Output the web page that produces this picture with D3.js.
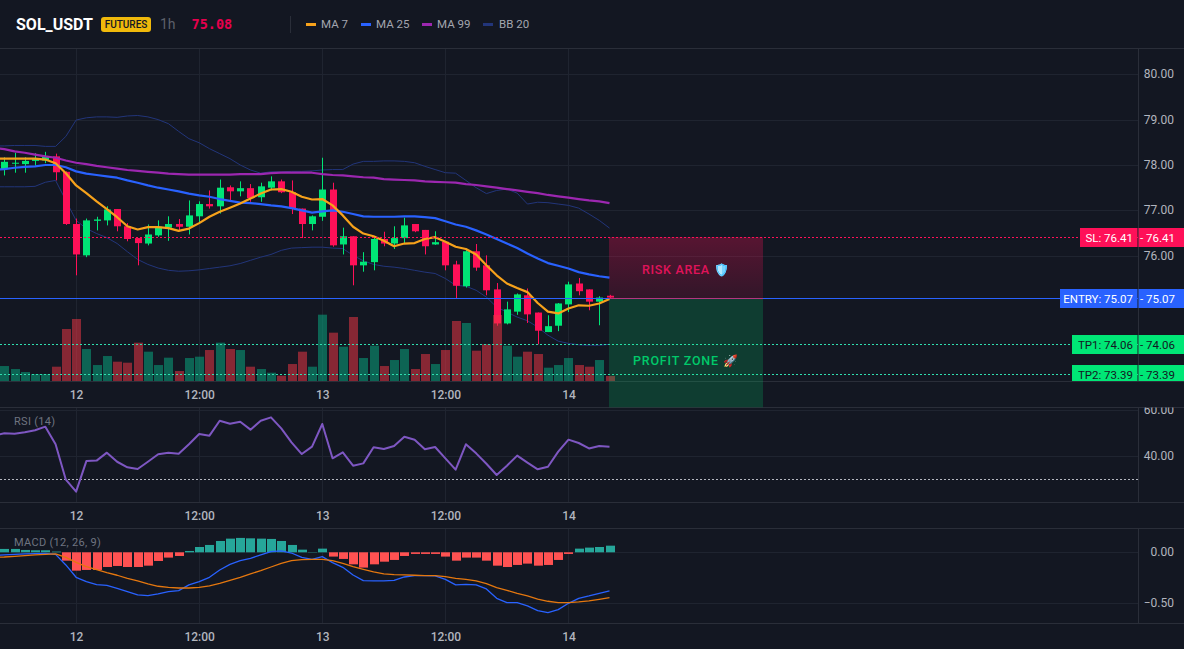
<!DOCTYPE html>
<html>
<head>
<meta charset="utf-8">
<script src="https://cdn.jsdelivr.net/npm/d3@7/dist/d3.min.js"></script>
<style>
html,body{margin:0;padding:0;background:#131722;overflow:hidden}
svg{display:block}
text{font-family:Roboto,"Noto Sans",sans-serif}
</style>
</head>
<body>
<svg id="chart" width="1184" height="649"></svg>
<script>
// Hourly SOL/USDT candles, oldest first
const opens=[77.95,
77.91,78.03,78.02,78.09,78.10,78.19,77.85,76.70,76.01,76.77,
76.78,77.03,76.65,76.39,76.27,76.45,76.62,76.70,76.64,76.87,
77.14,77.09,77.51,77.42,77.49,77.29,77.50,77.64,77.40,77.04,
76.70,76.86,77.46,76.25,76.43,75.79,75.86,76.37,76.27,76.39,
76.70,76.57,76.25,76.31,75.81,75.33,76.10,75.79,75.26,74.51,
74.77,75.13,74.75,74.32,74.46,74.93,75.39,75.26,74.99,75.12];
const highs=[78.10,
78.17,78.27,78.17,78.26,78.29,78.25,77.86,76.82,76.82,76.86,
77.09,77.03,76.72,76.39,76.69,76.78,76.87,76.81,77.22,77.20,
77.44,77.68,77.55,77.64,77.58,77.61,77.75,77.68,77.66,77.04,
76.89,78.16,77.61,76.62,76.43,76.08,76.40,76.53,76.65,76.84,
76.70,76.57,76.54,76.31,75.89,76.16,76.26,76.01,75.40,74.99,
75.17,75.28,74.75,74.69,74.96,75.43,75.51,75.26,75.11,75.14];
const lows=[77.85,
77.77,77.83,77.83,77.99,78.04,77.66,76.68,75.57,75.97,76.56,
76.67,76.54,76.32,75.79,76.23,76.42,76.33,76.56,76.47,76.72,
77.04,76.93,77.22,77.31,77.19,77.19,77.44,77.38,76.92,76.39,
76.56,76.77,76.20,76.03,75.35,75.65,75.68,76.21,76.15,76.28,
76.52,76.03,76.24,75.68,75.05,75.30,75.67,75.13,74.46,74.49,
74.70,74.52,74.05,74.32,74.34,74.76,75.13,74.80,74.47,75.05];
const closes=[78.00,
78.07,78.05,78.09,78.13,78.18,77.84,76.70,76.03,76.78,76.80,
77.02,76.65,76.37,76.28,76.47,76.64,76.70,76.64,76.89,77.14,
77.09,77.50,77.42,77.49,77.27,77.53,77.64,77.40,77.04,76.70,
76.87,77.46,76.23,76.43,75.79,75.87,76.37,76.27,76.39,76.67,
76.54,76.21,76.30,75.79,75.34,76.10,75.74,75.24,74.51,74.82,
75.15,74.71,74.35,74.45,74.95,75.37,75.22,74.99,75.08,75.08];
const volumes=[20,
23.5,19,14.5,11.5,11.5,22.5,79,94,49,25,
38.5,30,28.5,58.5,45,25,36,16,35.5,37.5,
47.5,58.5,49,47.5,22.5,19,13.5,9,26.5,45,
22.5,100.5,73.5,52.5,97,35.5,54,23.5,32.5,49,
19,41.5,26.5,47.5,91,88,46.5,56,100,54,
37.5,45,41.5,21,25,35.5,25,22.5,32.5,8.5];

// Moving averages and Bollinger bands
const ma7=[78.14,
78.14,78.14,78.14,78.14,78.12,78.04,77.82,77.55,77.38,77.20,
77.03,76.85,76.65,76.58,76.63,76.63,76.61,76.55,76.60,76.72,
76.86,76.97,77.06,77.15,77.26,77.37,77.46,77.47,77.41,77.30,
77.24,77.25,77.11,76.89,76.64,76.49,76.43,76.33,76.21,76.27,
76.28,76.37,76.41,76.31,76.20,76.15,76.03,75.79,75.57,75.39,
75.29,75.20,74.96,74.77,74.73,74.84,74.91,74.90,74.95,75.05];
const ma25=[77.89,
77.91,77.94,77.96,77.97,78.00,78.00,77.95,77.86,77.81,77.78,
77.75,77.72,77.66,77.61,77.55,77.50,77.46,77.42,77.37,77.33,
77.30,77.25,77.21,77.17,77.16,77.14,77.11,77.09,77.05,77.00,
76.95,76.98,77.00,76.97,76.92,76.87,76.86,76.86,76.86,76.87,
76.87,76.85,76.83,76.76,76.69,76.64,76.56,76.47,76.37,76.27,
76.17,76.05,75.94,75.84,75.78,75.72,75.64,75.59,75.55,75.52];
const ma99=[78.38,
78.35,78.30,78.27,78.23,78.19,78.16,78.10,78.05,78.02,77.98,
77.95,77.92,77.89,77.87,77.85,77.83,77.81,77.80,77.79,77.79,
77.79,77.79,77.79,77.80,77.80,77.80,77.82,77.83,77.83,77.83,
77.83,77.80,77.78,77.77,77.75,77.73,77.72,77.69,77.68,77.67,
77.66,77.64,77.63,77.62,77.61,77.58,77.56,77.53,77.50,77.47,
77.44,77.41,77.38,77.34,77.31,77.28,77.25,77.22,77.20,77.16];
const bbUpper=[78.42,
78.42,78.43,78.43,78.43,78.41,78.41,78.63,78.99,79.04,79.06,
79.06,79.05,79.08,79.09,79.06,79.00,78.91,78.74,78.58,78.49,
78.36,78.25,78.14,78.00,77.89,77.82,77.85,77.85,77.86,77.86,
77.87,77.89,77.90,77.90,78.02,78.08,78.08,78.09,78.09,78.08,
78.05,77.97,77.90,77.83,77.82,77.66,77.50,77.37,77.44,77.47,
77.38,77.14,77.18,77.17,77.14,77.11,77.05,76.92,76.78,76.61];
const bbLower=[77.52,
77.52,77.52,77.52,77.53,77.62,77.66,77.22,76.78,76.60,76.49,
76.40,76.27,76.09,75.92,75.81,75.73,75.68,75.66,75.67,75.69,
75.72,75.75,75.78,75.83,75.90,75.97,76.03,76.12,76.17,76.18,
76.19,76.19,76.17,76.16,76.01,75.89,75.81,75.77,75.75,75.72,
75.68,75.64,75.61,75.50,75.35,75.33,75.24,75.09,74.87,74.76,
74.65,74.57,74.43,74.25,74.12,74.07,74.04,74.03,74.03,74.05];

// RSI pane
const rsi=[49,
49.85,49.7,50.3,51.2,52.75,45.1,29.7,24.5,37.8,38.0,
41.45,37.5,35.1,34.35,37.5,40.75,41.45,41.0,45.1,49.55,
48.85,55.35,54.05,54.9,51.45,55.35,56.8,52.0,45.95,40.85,
44.05,53.9,39.0,41.6,35.8,36.8,43.8,43.05,44.35,48.4,
47.1,42.9,43.9,39.0,34.05,45.1,41.15,36.65,31.75,35.8,
40.15,37.1,34.2,35.35,41.9,47.1,45.65,43.3,44.35,44.05];

// MACD pane
const macdHist=[.03,
.033,.033,.023,.020,.020,.007,-.082,-.180,-.173,-.173,
-.144,-.134,-.144,-.144,-.131,-.085,-.052,-.036,.013,.052,
.072,.111,.134,.141,.137,.134,.131,.111,.072,.026,
.003,.036,-.042,-.065,-.118,-.150,-.118,-.092,-.075,-.036,
-.016,-.016,-.016,-.042,-.082,-.052,-.052,-.082,-.131,-.144,
-.124,-.111,-.131,-.124,-.075,-.016,.036,.046,.052,.065];
const macdLine=[-.03,
-.026,-.020,-.016,-.013,-.010,-.020,-.124,-.245,-.288,-.317,
-.324,-.353,-.386,-.418,-.425,-.408,-.386,-.376,-.320,-.288,
-.245,-.173,-.118,-.082,-.059,-.026,.007,.013,-.007,-.049,
-.069,-.042,-.101,-.147,-.222,-.278,-.281,-.281,-.275,-.242,
-.229,-.229,-.232,-.265,-.320,-.314,-.320,-.359,-.451,-.493,
-.493,-.526,-.572,-.592,-.562,-.500,-.451,-.428,-.402,-.379];
const macdSignal=[-.05,
-.046,-.039,-.033,-.026,-.020,-.016,-.049,-.098,-.141,-.170,
-.199,-.225,-.255,-.281,-.310,-.333,-.343,-.350,-.350,-.343,
-.330,-.304,-.275,-.245,-.212,-.180,-.144,-.108,-.082,-.072,
-.069,-.069,-.082,-.108,-.141,-.167,-.193,-.212,-.219,-.222,
-.225,-.229,-.229,-.239,-.255,-.265,-.281,-.307,-.346,-.373,
-.402,-.428,-.458,-.480,-.493,-.493,-.487,-.477,-.461,-.444];

// Axis ticks and trade levels
const timeTickIndex=[8,20,32,44,56];
const timeTickLabels=["12","12:00","13","12:00","14"];
const priceTicks=[80,79,78,77,76];
const rsiTicks=[60,40];
const rsiGuide=30;
const macdTicks=[0,-0.5];
const lastPrice=75.08;
const stopLoss=76.41, entry=75.07, takeProfit1=74.06, takeProfit2=73.39;
const legendItems=["MA 7","MA 25","MA 99","BB 20"];

const C={bg:"#131722",grid:"#1f2430",sep:"#2a2e39",axis:"#b2b5be",up:"#00e676",down:"#ff1058",
  ma7:"#f7a21b",ma25:"#2962ff",ma99:"#9c27b0",bb:"#22357a",rsi:"#7e57c2",
  histUp:"#26a69a",histDown:"#ff5252",macd:"#2962ff",signal:"#e4770f"};
const plotRight=1138, boxL=609, boxR=763;

const svg=d3.select("#chart");
const defs=svg.append("defs");
const clip=(id,x,y,w,h)=>defs.append("clipPath").attr("id",id).append("rect").attr("x",x).attr("y",y).attr("width",w).attr("height",h);
clip("mainClip",0,49,plotRight,332);
clip("rsiClip",0,408,plotRight,94);
clip("macdClip",0,529,plotRight,94);
clip("priceAxisClip",plotRight,49,46,332);
clip("rsiAxisClip",plotRight,407.5,46,95);
clip("tagClip",0,49,1184,332);

const riskGrad=defs.append("linearGradient").attr("id","riskFill").attr("x1",0).attr("x2",0).attr("y1",0).attr("y2",1);
riskGrad.append("stop").attr("offset",0).attr("stop-color","#ff1058").attr("stop-opacity",.29);
riskGrad.append("stop").attr("offset",1).attr("stop-color","#ff1058").attr("stop-opacity",.13);

// Scales
const x=d3.scaleLinear().domain([1,60]).range([4.3,609.5]);
const y=d3.scaleLinear().domain([80,73]).range([74.2,392]);
const vol=d3.scaleLinear().domain([0,100]).range([381.7,315]);
const rsiY=d3.scaleLinear().domain([60,40]).range([410,456]);
const macdY=d3.scaleLinear().domain([0,-0.5]).range([552.3,603.3]);
const idx=d3.range(opens.length);

// Pane gridlines
function vGrid(top,bottom){
  svg.append("g").selectAll("line").data(timeTickIndex).join("line")
    .attr("x1",d=>Math.round(x(d))+.5).attr("x2",d=>Math.round(x(d))+.5)
    .attr("y1",top).attr("y2",bottom).attr("stroke",C.grid);
}
function hGrid(values,scale){
  svg.append("g").selectAll("line").data(values).join("line")
    .attr("x1",0).attr("x2",plotRight)
    .attr("y1",d=>Math.round(scale(d))+.5).attr("y2",d=>Math.round(scale(d))+.5)
    .attr("stroke",C.grid);
}
vGrid(49,381);vGrid(408,502);vGrid(529,623);
hGrid(priceTicks,y);hGrid(rsiTicks,rsiY);hGrid(macdTicks,macdY);

const main=svg.append("g").attr("clip-path","url(#mainClip)");
const lineOf=(vals,scale)=>d3.line().x(i=>x(i)).y(i=>scale(vals[i]));
const stroke=(g,vals,scale,color,w)=>g.append("path").datum(idx).attr("fill","none")
  .attr("stroke",color).attr("stroke-width",w).attr("stroke-linejoin","round").attr("d",lineOf(vals,scale));

// Bollinger bands sit behind the candles
stroke(main,bbUpper,y,C.bb,1);
stroke(main,bbLower,y,C.bb,1);

// Candles
const isUp=i=>closes[i]>=opens[i];
const candle=main.append("g").selectAll("g").data(idx).join("g");
candle.append("line")
  .attr("x1",i=>Math.round(x(i))+.5).attr("x2",i=>Math.round(x(i))+.5)
  .attr("y1",i=>y(highs[i])).attr("y2",i=>y(lows[i]))
  .attr("stroke",i=>isUp(i)?C.up:C.down);
candle.append("rect")
  .attr("x",i=>Math.round(x(i))-3).attr("width",7)
  .attr("y",i=>y(Math.max(opens[i],closes[i])))
  .attr("height",i=>Math.max(1,Math.abs(y(opens[i])-y(closes[i]))))
  .attr("fill",i=>isUp(i)?C.up:C.down);

// Moving averages
stroke(main,ma99,y,C.ma99,2.2);
stroke(main,ma25,y,C.ma25,2.2);
stroke(main,ma7,y,C.ma7,2.2);

// Volume histogram over the price series
main.append("g").selectAll("rect").data(idx).join("rect")
  .attr("x",i=>Math.round(x(i))-4).attr("width",9)
  .attr("y",i=>vol(volumes[i])).attr("height",i=>vol(0)-vol(volumes[i]))
  .attr("fill",i=>isUp(i)?"rgba(8,170,130,.52)":"rgba(242,54,69,.52)");

// Trade levels
const levels=[
 {v:stopLoss,color:"#ff1058",dash:"2 2"},
 {v:entry,color:"#2962ff",dash:null},
 {v:takeProfit1,color:"#2fe0b0",dash:"2 2"},
 {v:takeProfit2,color:"#2fe0b0",dash:"2 2"}];
main.append("g").selectAll("line").data(levels).join("line")
  .attr("x1",0).attr("x2",plotRight)
  .attr("y1",d=>Math.round(y(d.v))+.5).attr("y2",d=>Math.round(y(d.v))+.5)
  .attr("stroke",d=>d.color).attr("stroke-dasharray",d=>d.dash);

// Separators between panes and around the price axis
svg.append("g").selectAll("line").data([48,381,407,502,528,623]).join("line")
  .attr("x1",0).attr("x2",1184).attr("y1",d=>d+.5).attr("y2",d=>d+.5).attr("stroke",C.sep);
svg.append("g").selectAll("line").data([[49,381],[408,502],[529,623]]).join("line")
  .attr("x1",plotRight+.5).attr("x2",plotRight+.5).attr("y1",d=>d[0]).attr("y2",d=>d[1]).attr("stroke",C.sep);

// Risk and profit zones
const riskTop=y(stopLoss), entryY=y(entry)+.4, profitBottom=407.3;
svg.append("rect").attr("x",boxL).attr("width",boxR-boxL).attr("y",riskTop).attr("height",entryY-riskTop).attr("fill","url(#riskFill)");
svg.append("rect").attr("x",boxL).attr("width",boxR-boxL).attr("y",entryY).attr("height",profitBottom-entryY).attr("fill","rgba(0,230,118,.19)");
svg.append("line").attr("x1",boxL).attr("x2",boxR).attr("y1",Math.round(entryY)+.5).attr("y2",Math.round(entryY)+.5).attr("stroke","#e0245e").attr("stroke-opacity",.75);
svg.append("text").attr("x",642).attr("y",274).attr("fill","#e0135a").attr("font-size",12.5).attr("letter-spacing",.7).style("font-weight",500).text("RISK AREA");
svg.append("text").attr("x",633).attr("y",365).attr("fill","#00c96a").attr("font-size",12.5).attr("letter-spacing",.8).style("font-weight",500).text("PROFIT ZONE");
svg.append("text").attr("x",714).attr("y",274).attr("font-size",12).style("filter","sepia(1) saturate(7) hue-rotate(170deg)").text("🛡️");
svg.append("text").attr("x",723).attr("y",365).attr("font-size",12).text("🚀");

// Price axis
svg.append("g").attr("clip-path","url(#priceAxisClip)").selectAll("text").data(priceTicks).join("text")
  .attr("x",1174).attr("y",d=>y(d)+4).attr("text-anchor","end").attr("fill",C.axis).attr("font-size",12)
  .text(d=>d3.format(".2f")(d));

// Level tags
const tags=[
 {label:"SL",v:stopLoss,fill:"#ff1058",text:"#fff",left:1080},
 {label:"ENTRY",v:entry,fill:"#2962ff",text:"#fff",left:1060},
 {label:"TP1",v:takeProfit1,fill:"#00e676",text:"#131722",left:1072},
 {label:"TP2",v:takeProfit2,fill:"#00e676",text:"#131722",left:1072}];
const tag=svg.append("g").attr("clip-path","url(#tagClip)").selectAll("g").data(tags).join("g");
tag.append("rect").attr("x",d=>d.left).attr("width",d=>plotRight-d.left-.5).attr("y",d=>Math.round(y(d.v))-9).attr("height",19).attr("fill",d=>d.fill);
tag.append("rect").attr("x",plotRight+.5).attr("width",1184-plotRight).attr("y",d=>Math.round(y(d.v))-9).attr("height",19).attr("fill",d=>d.fill);
tag.append("text").attr("x",plotRight-5).attr("y",d=>Math.round(y(d.v))+4.5).attr("text-anchor","end").attr("fill",d=>d.text).attr("font-size",11.5)
  .text(d=>d.label+": "+d.v.toFixed(2));
tag.append("text").attr("x",1175).attr("y",d=>Math.round(y(d.v))+4.5).attr("text-anchor","end").attr("fill",d=>d.text).attr("font-size",11.5)
  .text(d=>"- "+d.v.toFixed(2));

// RSI pane
const rsiG=svg.append("g").attr("clip-path","url(#rsiClip)");
rsiG.append("line").attr("x1",0).attr("x2",plotRight).attr("y1",Math.round(rsiY(rsiGuide))+.5).attr("y2",Math.round(rsiY(rsiGuide))+.5)
  .attr("stroke","#d1d4dc").attr("stroke-opacity",.85).attr("stroke-dasharray","2 2");
stroke(rsiG,rsi,rsiY,C.rsi,2);
svg.append("text").attr("x",14).attr("y",425).attr("fill","#6f7480").attr("font-size",11).attr("letter-spacing",.3).text("RSI (14)");
svg.append("g").attr("clip-path","url(#rsiAxisClip)").selectAll("text").data(rsiTicks).join("text")
  .attr("x",1174).attr("y",d=>rsiY(d)+4).attr("text-anchor","end").attr("fill",C.axis).attr("font-size",12)
  .text(d=>d3.format(".2f")(d));

// MACD pane
const macdG=svg.append("g").attr("clip-path","url(#macdClip)");
macdG.append("g").selectAll("rect").data(idx).join("rect")
  .attr("x",i=>Math.round(x(i))-4).attr("width",9)
  .attr("y",i=>Math.min(macdY(0),macdY(macdHist[i])))
  .attr("height",i=>Math.abs(macdY(macdHist[i])-macdY(0)))
  .attr("fill",i=>macdHist[i]>=0?C.histUp:C.histDown);
stroke(macdG,macdLine,macdY,C.macd,1.3);
stroke(macdG,macdSignal,macdY,C.signal,1.3);
svg.append("text").attr("x",14).attr("y",546).attr("fill","#6f7480").attr("font-size",11).attr("letter-spacing",.3).text("MACD (12, 26, 9)");
svg.append("g").selectAll("text").data(macdTicks).join("text")
  .attr("x",1174).attr("y",d=>macdY(d)+4).attr("text-anchor","end").attr("fill",C.axis).attr("font-size",12)
  .text(d=>d3.format(".2f")(d));

// Time axes under each pane
[381,502,623].forEach(top=>{
  const axis=d3.axisBottom(x).tickValues(timeTickIndex).tickSize(0).tickPadding(0)
    .tickFormat(d=>timeTickLabels[timeTickIndex.indexOf(d)]);
  const g=svg.append("g").attr("transform",`translate(0,${top+9})`).call(axis);
  g.select(".domain").remove();
  g.selectAll("text").attr("fill",C.axis).attr("font-size",12).style("font-weight",500).style("font-family","Roboto,sans-serif");
});

// Header row
svg.append("text").attr("x",16).attr("y",30).attr("fill","#fff").attr("font-size",16).style("font-weight",700).text("SOL_USDT");
svg.append("rect").attr("x",101).attr("y",17).attr("width",50).attr("height",15).attr("rx",3).attr("fill","#f0b90b");
svg.append("text").attr("x",126).attr("y",28).attr("text-anchor","middle").attr("fill","#131722").attr("font-size",10).style("font-weight",500).text("FUTURES");
svg.append("text").attr("x",160).attr("y",29).attr("fill","#5d606b").attr("font-size",14).text("1h");
svg.append("text").attr("x",191.5).attr("y",29).attr("fill","#e6004d").attr("font-size",13.5).style("font-weight",700).style("font-family","'DejaVu Sans Mono',monospace").text(lastPrice.toFixed(2));
svg.append("line").attr("x1",290.5).attr("x2",290.5).attr("y1",16).attr("y2",33).attr("stroke",C.sep);

const legendColors=[C.ma7,C.ma25,C.ma99,C.bb];
const legendSwatchX=[306,361,422,483];
const legendTextX=[321,376,437,499];
const legend=svg.append("g").selectAll("g").data(legendItems).join("g");
legend.append("rect").attr("x",(d,i)=>legendSwatchX[i]).attr("y",23).attr("width",10).attr("height",3).attr("fill",(d,i)=>legendColors[i]);
legend.append("text").attr("x",(d,i)=>legendTextX[i]).attr("y",28).attr("fill","#a3a6af").attr("font-size",11.5).text(d=>d);
</script>
</body>
</html>
